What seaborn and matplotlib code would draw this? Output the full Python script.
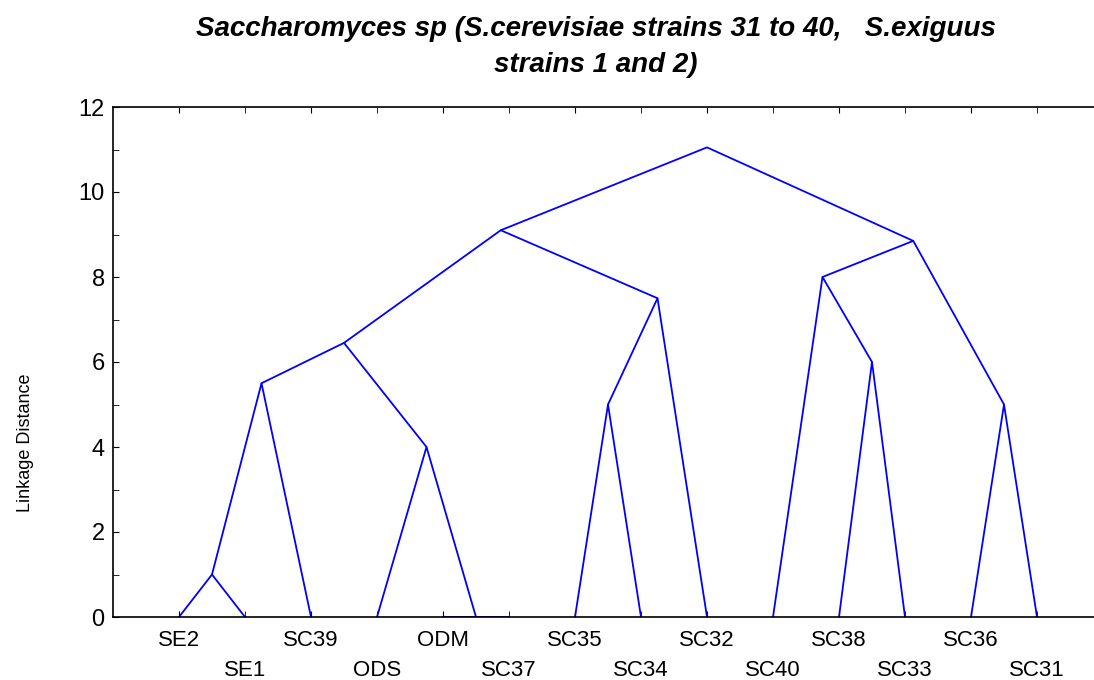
import numpy as np
import pandas as pd
import matplotlib
matplotlib.use('Agg')
import matplotlib.pyplot as plt
import seaborn as sns

# leaves in dendrogram order
leaves = ['SE2', 'SE1', 'SC39', 'ODS', 'ODM', 'SC37', 'SC35',
          'SC34', 'SC32', 'SC40', 'SC38', 'SC33', 'SC36', 'SC31']
# merges: (left node, right node, linkage distance); new nodes numbered from 14
merge_left = [0, 4, 14, 3, 16, 6, 19, 18, 10, 9, 12, 23, 21]
merge_right = [1, 5, 2, 15, 17, 7, 8, 20, 11, 22, 13, 24, 25]
merge_height = [1.0, 0.0, 5.5, 4.0, 6.45, 5.0, 7.5, 9.1, 6.0, 8.0, 5.0, 8.85, 11.05]

title = 'Saccharomyces sp (S.cerevisiae strains 31 to 40,   S.exiguus\nstrains 1 and 2)'

sns.set_style('ticks')
plt.rcParams['font.family'] = ['Liberation Sans', 'DejaVu Sans']
plt.rcParams['text.color'] = 'black'
plt.rcParams['xtick.color'] = 'black'
plt.rcParams['ytick.color'] = 'black'

# node positions
pos_x = {i: float(i) for i in range(len(leaves))}
pos_y = {i: 0.0 for i in range(len(leaves))}
rows = []
for k, (l, r, h) in enumerate(zip(merge_left, merge_right, merge_height)):
    node = len(leaves) + k
    pos_x[node] = (pos_x[l] + pos_x[r]) / 2
    pos_y[node] = h
    rows.append({'seg': k, 'x': pos_x[l], 'y': pos_y[l], 'o': 0})
    rows.append({'seg': k, 'x': pos_x[node], 'y': h, 'o': 1})
    rows.append({'seg': k, 'x': pos_x[r], 'y': pos_y[r], 'o': 2})
df = pd.DataFrame(rows)

fig = plt.figure(figsize=(10.94, 6.80), dpi=100)
ax = fig.add_axes([113/1094, 63/680, 990/1094, 510/680])
sns.lineplot(data=df, x='x', y='y', units='seg', estimator=None, sort=False,
             color='#0000ff', lw=1.3, ax=ax)

ax.set_xlim(-1, len(leaves))
ax.set_ylim(0, 12)
ax.set_xlabel('')
ax.set_ylabel('')
for s in ['left', 'top', 'bottom']:
    ax.spines[s].set_linewidth(1.2)
    ax.spines[s].set_color('black')

idx = np.arange(len(leaves))
ax.set_xticks(idx[::2], [leaves[i] for i in idx[::2]])
ax.set_xticks(idx[1::2], [leaves[i] for i in idx[1::2]], minor=True)
ax.tick_params(axis='x', which='both', direction='in', top=True, length=4,
               labelsize=16)
ax.tick_params(axis='x', which='major', pad=9)
ax.tick_params(axis='x', which='minor', pad=31)
ax.set_yticks(np.arange(0, 13, 2))
ax.set_yticks(np.arange(1, 12, 2), minor=True)
ax.tick_params(axis='y', which='both', direction='in', length=4, labelsize=17, pad=6)

fig.text(25/1094, 1 - 443/680, 'Linkage Distance', rotation=90, ha='center',
         va='center', fontsize=13)
fig.text(596/1094, 1 - 47/680, title, ha='center', va='center', fontsize=20,
         fontweight='bold', fontstyle='italic', linespacing=1.45)

fig.savefig('out.png', dpi=100)
